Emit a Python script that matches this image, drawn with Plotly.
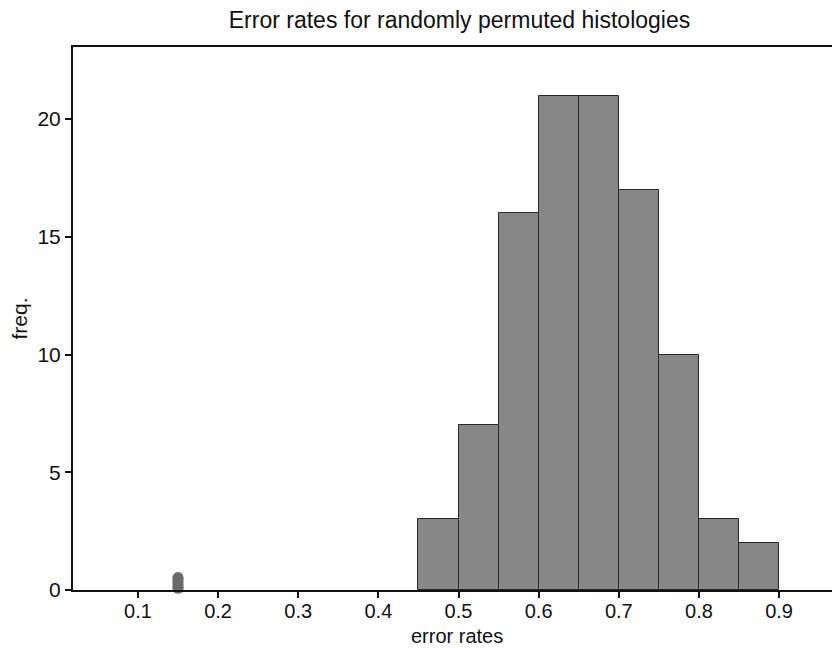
import plotly.graph_objects as go

bin_starts = [0.45, 0.50, 0.55, 0.60, 0.65, 0.70, 0.75, 0.80, 0.85]
bin_width = 0.05
counts = [3, 7, 16, 21, 21, 17, 10, 3, 2]
observed_rate = 0.15
observed_marker = [0.07, 0.53]
x_ticks = [0.1, 0.2, 0.3, 0.4, 0.5, 0.6, 0.7, 0.8, 0.9]
y_ticks = [0, 5, 10, 15, 20]

centers = [s + bin_width / 2 for s in bin_starts]

fig = go.Figure()
fig.add_trace(go.Bar(
    x=centers, y=counts, width=[bin_width] * len(counts),
    marker=dict(color="#878787", line=dict(color="#2a2a2a", width=1)),
    showlegend=False, hoverinfo="skip",
))
fig.add_trace(go.Scatter(
    x=[observed_rate] * len(observed_marker), y=observed_marker,
    mode="lines+markers",
    line=dict(color="#6b6b6b", width=11),
    marker=dict(color="#6b6b6b", size=11),
    showlegend=False, hoverinfo="skip", cliponaxis=False,
))

font = "Liberation Sans, Arial, sans-serif"
fig.update_layout(
    width=840, height=648,
    margin=dict(l=65, r=8, t=39, b=66),
    paper_bgcolor="white", plot_bgcolor="white",
    title=dict(text="Error rates for randomly permuted histologies",
               x=0.5375, xanchor="center", y=0.981, yanchor="middle",
               font=dict(family=font, size=23, color="#111")),
    font=dict(family=font, color="#111"),
    bargap=0,
    xaxis=dict(
        range=[0.019, 0.976], tickvals=x_ticks,
        ticktext=[f"{v:.1f}" for v in x_ticks],
        ticks="outside", ticklen=6, tickwidth=1.5, tickcolor="#111",
        showline=True, linecolor="#111", linewidth=2, mirror=True,
        showgrid=False, zeroline=False, ticklabelstandoff=-4,
        tickfont=dict(size=20),
    ),
    yaxis=dict(
        range=[0, 23.06], tickvals=y_ticks,
        ticks="outside", ticklen=6, tickwidth=1.5, tickcolor="#111",
        showline=True, linecolor="#111", linewidth=2,
        showgrid=False, zeroline=False,
        tickfont=dict(size=21), title=dict(text="freq.", font=dict(size=21), standoff=6),
    ),
    annotations=[dict(
        text="error rates", xref="paper", yref="paper", x=0.5, y=-0.106,
        xanchor="center", yanchor="bottom", showarrow=False, borderpad=0,
        font=dict(family=font, size=20, color="#111"),
    )],
)
fig.write_html("out.html")
